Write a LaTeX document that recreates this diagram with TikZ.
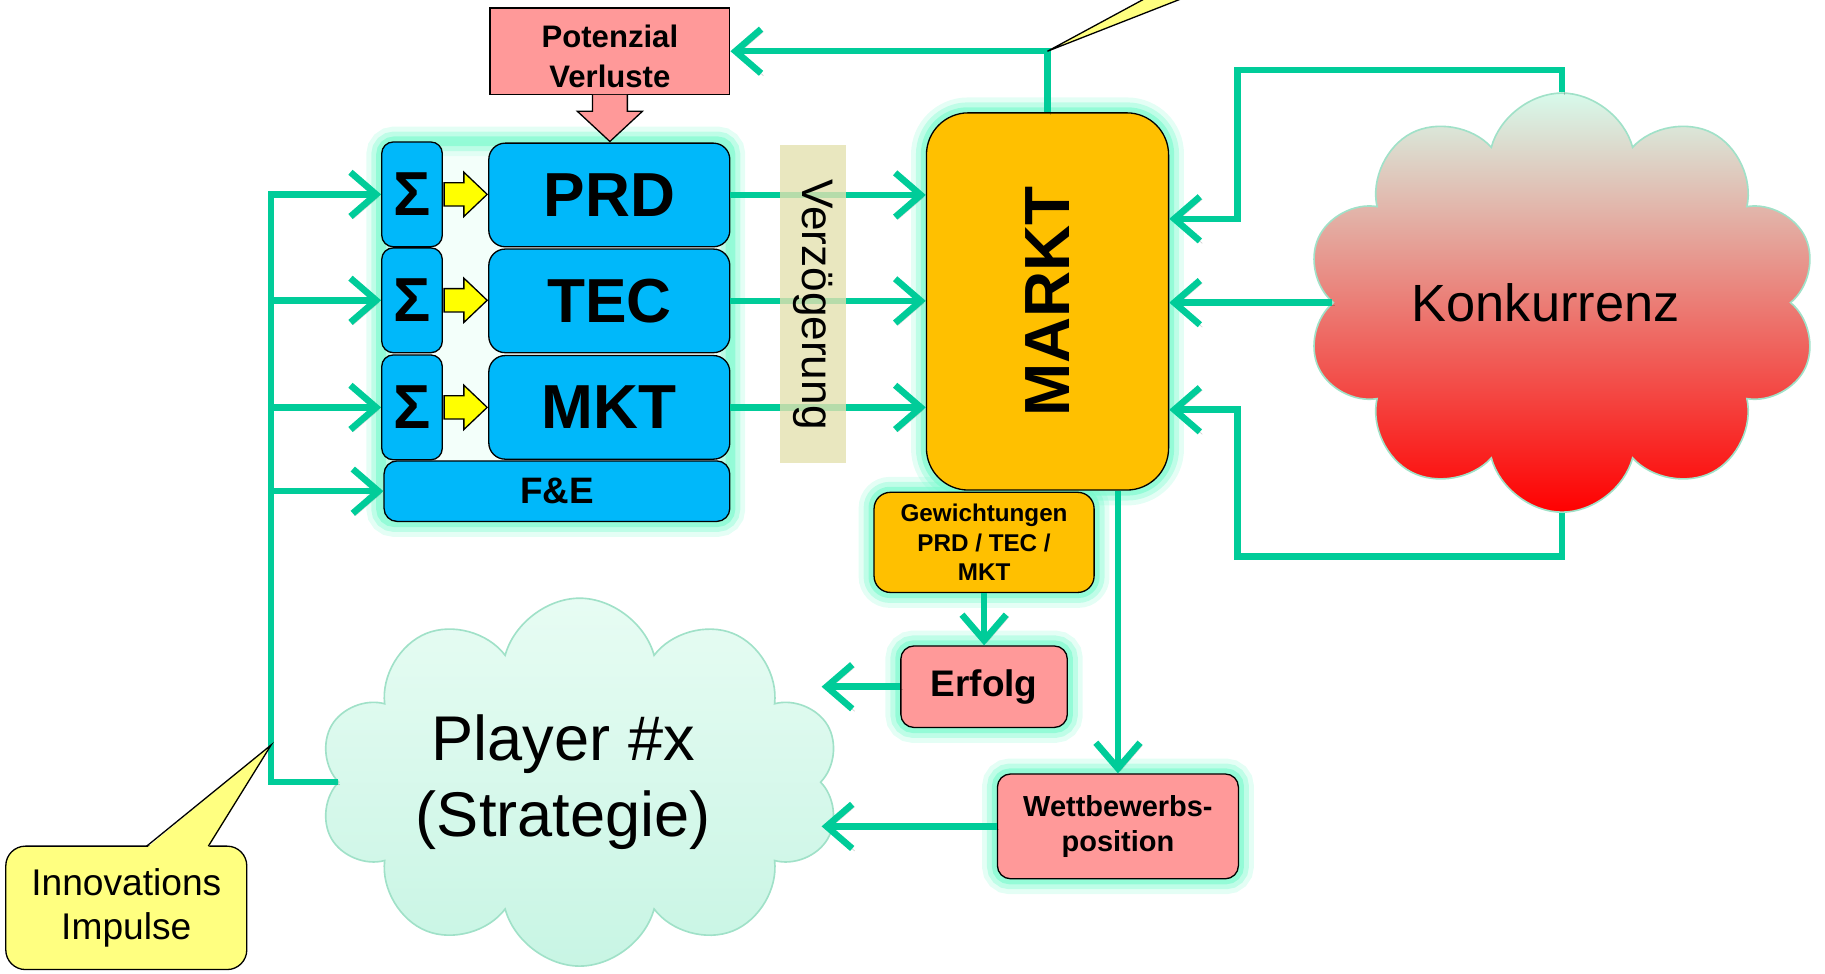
\documentclass[tikz,border=0pt]{standalone}
\usepackage{fontspec}
\setmainfont{Liberation Sans}
\usetikzlibrary{arrows.meta,shapes.symbols}

\definecolor{gruen}{RGB}{0,204,153}
\definecolor{blau}{RGB}{0,184,250}
\definecolor{markorange}{RGB}{255,192,0}
\definecolor{rosa}{RGB}{255,153,153}
\definecolor{gelb}{RGB}{255,255,128}
\definecolor{pfeilgelb}{RGB}{255,255,0}
\definecolor{khaki}{RGB}{228,225,175}
\definecolor{glowc}{RGB}{120,250,205}
\definecolor{minz}{RGB}{215,250,235}
\definecolor{minzrand}{RGB}{160,225,200}
\definecolor{spielgruen}{RGB}{200,245,228}
\newcommand{\TrunkX}{233}

\pgfdeclarelayer{bg}
\pgfsetlayers{bg,main}

\begin{document}
\begin{tikzpicture}[x=0.025cm, y=-0.025cm,
  box/.style={draw, line width=0.8pt, inner sep=0pt, align=center},
  sbox/.style={box, fill=blau, rounded corners=7pt, minimum width=1.3cm, minimum height=2.25cm, font=\fontsize{38}{38}\selectfont\bfseries},
  mbox/.style={box, fill=blau, rounded corners=10pt, minimum width=5.175cm, minimum height=2.225cm, font=\fontsize{38}{38}\selectfont\bfseries},
  rbox/.style={box, fill=rosa, rounded corners=8pt},
  glow/.style={draw=glowc, line width=12pt, opacity=0.35, preaction={draw=glowc, line width=18pt, opacity=0.2}, postaction={draw=glowc, line width=6pt, opacity=0.6}},
  pfeil/.style={draw=gruen, line width=4pt, -{Straight Barb[length=0.55cm, width=0.95cm]},
    preaction={draw=black, opacity=0.18, transform canvas={shift={(1.5pt,-1.5pt)}}}},
  wolke/.style={cloud, cloud puffs=10, cloud ignores aspect, draw=minzrand, line width=1pt, inner sep=0pt, align=center}
]

\useasboundingbox (0,0) rectangle (1568,836);

% Potenzial Verluste
\node[box, fill=rosa, minimum width=5.15cm, minimum height=1.85cm, font=\fontsize{19}{24}\selectfont\bfseries] (pv) at (524,44) {\rule{0pt}{20pt}Potenzial\\Verluste};
\draw[fill=rosa, line width=0.8pt] (pv.south) ++(-15,0) -- ++(0,14) -- ++(-13,0) -- ++(28,26) -- ++(28,-26) -- ++(-13,0) -- ++(0,-14);

% Sigma und Bereiche
\node[sbox] (s1) at (354,167) {Σ};
\node[sbox] (s2) at (354,258) {Σ};
\node[sbox] (s3) at (354,350) {Σ};
\node[mbox] (prd) at (523.5,167.5) {PRD};
\node[mbox] (tec) at (523.5,258.5) {TEC};
\node[mbox] (mkt) at (523.5,350) {MKT};
\node[box, fill=blau, rounded corners=8pt, minimum width=7.425cm, minimum height=1.3cm, font=\fontsize{22.5}{22.5}\selectfont\bfseries] (fe) at (478.5,422) {F\&E};

\draw[fill=pfeilgelb, line width=0.8pt] (s1.east) ++(1,-10) -- ++(17,0) -- ++(0,-9) -- ++(20,19) -- ++(-20,19) -- ++(0,-9) -- ++(-17,0) -- cycle;
\draw[fill=pfeilgelb, line width=0.8pt] (s2.east) ++(1,-10) -- ++(17,0) -- ++(0,-9) -- ++(20,19) -- ++(-20,19) -- ++(0,-9) -- ++(-17,0) -- cycle;
\draw[fill=pfeilgelb, line width=0.8pt] (s3.east) ++(1,-10) -- ++(17,0) -- ++(0,-9) -- ++(20,19) -- ++(-20,19) -- ++(0,-9) -- ++(-17,0) -- cycle;

% Markt
\node[box, fill=markorange, rounded corners=0.9cm, minimum width=5.2cm, minimum height=8.1cm, font=\fontsize{39}{39}\selectfont\bfseries] (markt) at (900,259) {\rotatebox{90}{MARKT}};
\node[box, fill=markorange, rounded corners=10pt, minimum width=4.725cm, minimum height=2.15cm, font=\fontsize{14.8}{18}\selectfont\bfseries] (gew) at (845.5,466) {Gewichtungen\\PRD / TEC /\\MKT};
\node[rbox, minimum width=3.575cm, minimum height=1.75cm, font=\fontsize{22.6}{22.6}\selectfont\bfseries] (erfolg) at (845.5,590) {Erfolg};
\node[rbox, minimum width=5.175cm, minimum height=2.25cm, font=\fontsize{17.7}{21}\selectfont\bfseries] (wett) at (960.5,710) {Wettbewerbs-\\position};

% Wolken
\node[wolke, top color=minz, bottom color=red, minimum width=11cm, minimum height=9cm, font=\fontsize{32}{32}\selectfont] (konk) at (1342,260) {\hspace*{-0.7cm}Konkurrenz};
\node[wolke, top color=minz!60!white, bottom color=spielgruen, minimum width=11.2cm, minimum height=7.9cm, font=\fontsize{38.6}{46}\selectfont] (player) at (498,672) {Player \#x\hspace*{0.7cm}\\(Strategie)\hspace*{0.7cm}};

% Verbindungen
\draw[pfeil] (prd.east) -- (prd.east -| markt.west);
\draw[pfeil] (tec.east) -- (tec.east -| markt.west);
\draw[pfeil] (mkt.east) -- (mkt.east -| markt.west);
\node[fill=khaki, fill opacity=0.8, text opacity=1, inner sep=0pt, minimum width=1.425cm, minimum height=6.825cm, font=\fontsize{27}{27}\selectfont] (vz) at (698.5,261.5) {\rotatebox{-90}{Verzögerung}};

\draw[pfeil] (markt.north) |- (pv.east);
\coordinate (marktspitze) at (markt.north |- pv.east);
\draw[fill=gelb, line width=0.8pt] (marktspitze) -- (987,-3) -- (1020,-3) -- cycle;

\draw[pfeil] (konk.north) |- (1063,60) |- ([yshift=1.775cm]markt.east);
\draw[pfeil] (konk.west) -- (konk.west -| markt.east);
\draw[pfeil] (konk.south) |- (1063,478) |- ([yshift=-2.325cm]markt.east);

\draw[pfeil] (gew.south) -- (erfolg.north);
\draw[pfeil] (wett.north |- markt.south) -- (wett.north);
\draw[pfeil] (erfolg.west) -- (erfolg.west -| player.east);
\draw[pfeil] (wett.west) -- (wett.west -| player.east);

% Rueckkopplung
\coordinate (stamm) at (\TrunkX,0);
\draw[pfeil] (player.west) -| (stamm |- s1.west) -- (s1.west);
\draw[pfeil] (stamm |- s2.west) -- (s2.west);
\draw[pfeil] (stamm |- s3.west) -- (s3.west);
\draw[pfeil] (stamm |- fe.west) -- (fe.west);

% Innovations Impulse
\node[box, fill=gelb, rounded corners=12pt, minimum width=5.175cm, minimum height=2.65cm, font=\fontsize{22.7}{27}\selectfont] (innov) at (108.5,780) {Innovations\\Impulse};
\coordinate (innotip) at (\TrunkX,640);
\fill[gelb] (126,728.5) -- (innotip) -- (179,728.5) -- cycle;
\draw[line width=0.8pt] (126,727) -- (innotip) -- (179,727);

% Leuchten
\begin{pgfonlayer}{bg}
\path[glow, fill=glowc!25, rounded corners=8pt] (s1.north west) rectangle (fe.south east);
\path[glow, rounded corners=0.9cm] (markt.north west) rectangle (markt.south east);
\path[glow, rounded corners=10pt] (gew.north west) rectangle (gew.south east);
\path[glow, rounded corners=8pt] (erfolg.north west) rectangle (erfolg.south east);
\path[glow, rounded corners=8pt] (wett.north west) rectangle (wett.south east);
\end{pgfonlayer}

\end{tikzpicture}
\end{document}
